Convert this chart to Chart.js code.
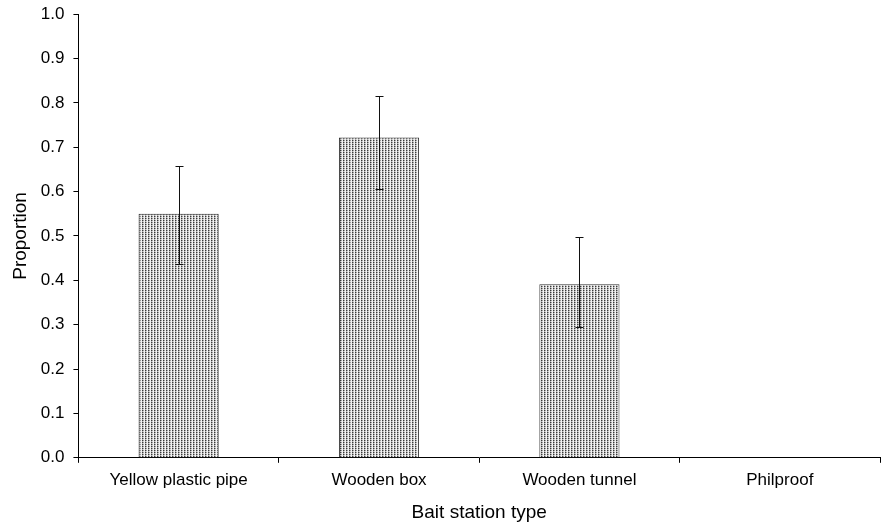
<!DOCTYPE html>
<html>
<head>
<meta charset="utf-8">
<script src="https://cdn.jsdelivr.net/npm/chart.js@4"></script>
<style>
    html, body { margin: 0; padding: 0; background: #fff; }
    #wrap { width: 881px; height: 529px; position: relative; }
</style>
</head>
<body>
<div id="wrap"><canvas id="chart"></canvas></div>
<script>
const stationTypes = ['Yellow plastic pipe', 'Wooden box', 'Wooden tunnel', 'Philproof'];
const proportions = [0.55, 0.722, 0.391, 0];
const errLow = [0.437, 0.606, 0.295, null];
const errHigh = [0.657, 0.815, 0.497, null];

// stippled fill like the original
function makeStipple() {
    const c = document.createElement('canvas');
    c.width = 3;
    c.height = 2;
    const ctx = c.getContext('2d');
    const px = [
        ['#f2f2f2', '#3a3a3a', '#9a9a9a'],
        ['#f2f2f2', '#b0b0b0', '#e2e2e2']
    ];
    px.forEach((row, r) => row.forEach((col, k) => {
        ctx.fillStyle = col;
        ctx.fillRect(k, r, 1, 1);
    }));
    return ctx.createPattern(c, 'repeat');
}

const errorBars = {
    id: 'errorBars',
    afterDatasetsDraw(chart) {
        const ctx = chart.ctx;
        const x = chart.scales.x;
        const y = chart.scales.y;
        ctx.save();
        ctx.strokeStyle = '#111';
        ctx.lineWidth = 1;
        errLow.forEach((lo, i) => {
            if (lo === null) return;
            const px = Math.round(x.getPixelForValue(i)) + 0.5;
            const yl = Math.round(y.getPixelForValue(lo)) + 0.5;
            const yh = Math.round(y.getPixelForValue(errHigh[i])) + 0.5;
            ctx.beginPath();
            ctx.moveTo(px, yl);
            ctx.lineTo(px, yh);
            ctx.moveTo(px - 4, yl);
            ctx.lineTo(px + 4, yl);
            ctx.moveTo(px - 4, yh);
            ctx.lineTo(px + 4, yh);
            ctx.stroke();
        });
        ctx.restore();
    }
};

Chart.defaults.font.family = '"Liberation Sans", Arial, sans-serif';
Chart.defaults.color = '#000';

new Chart(document.getElementById('chart'), {
    type: 'bar',
    data: {
        labels: stationTypes,
        datasets: [{
            data: proportions,
            backgroundColor: makeStipple(),
            borderColor: '#333',
            borderWidth: 1,
            borderSkipped: 'bottom',
            categoryPercentage: 0.8,
            barPercentage: 0.5
        }]
    },
    options: {
        responsive: true,
        maintainAspectRatio: false,
        animation: false,
        layout: { padding: { top: 3, right: 1, left: 0, bottom: 5 } },
        plugins: {
            legend: { display: false },
            tooltip: { enabled: false }
        },
        scales: {
            x: {
                grid: {
                    offset: true,
                    drawOnChartArea: false,
                    tickLength: 5,
                    color: '#000'
                },
                border: { color: '#000', width: 1 },
                ticks: { font: { size: 17 }, padding: 7 },
                title: {
                    display: true,
                    text: 'Bait station type',
                    font: { size: 19 },
                    padding: { top: 4, bottom: 0 }
                }
            },
            y: {
                min: 0,
                max: 1,
                grid: {
                    drawOnChartArea: false,
                    tickLength: 5,
                    color: '#000'
                },
                border: { color: '#000', width: 1 },
                ticks: {
                    stepSize: 0.1,
                    font: { size: 17, lineHeight: 0.6 },
                    padding: 9,
                    callback: v => v.toFixed(1)
                },
                title: {
                    display: true,
                    text: 'Proportion',
                    font: { size: 19 },
                    padding: { top: 9, bottom: 0 }
                }
            }
        }
    },
    plugins: [errorBars]
});
</script>
</body>
</html>
